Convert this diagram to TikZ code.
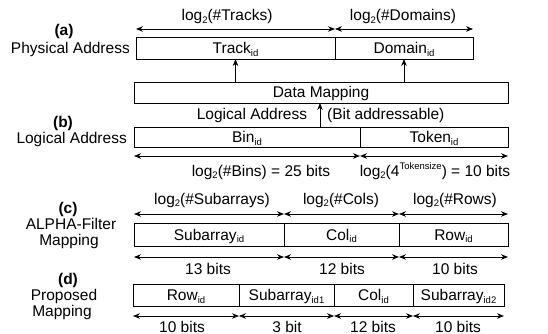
\documentclass[tikz,border=0pt]{standalone}
\usepackage{fontspec}
\setmainfont{Liberation Sans}
\usetikzlibrary{arrows.meta}
\newcommand{\mysub}[1]{\raisebox{-0.35ex}{\fontsize{9.5}{10}\selectfont #1}}
\newcommand{\mysupr}[1]{\raisebox{0.85ex}{\fontsize{9.5}{10}\selectfont #1}}
\tikzset{
  txt/.style={inner sep=0pt, anchor=base, font=\fontsize{15.5}{17}\selectfont},
  bold/.style={txt, font=\fontsize{15.5}{17}\selectfont\bfseries},
  field/.style={draw, line width=0.8pt, inner sep=0pt, outer sep=0pt, text height=11pt, text depth=0pt, font=\fontsize{15.5}{17}\selectfont},
  dimarrow/.style={line width=0.8pt, {Stealth[length=7pt,width=5.5pt]}-{Stealth[length=7pt,width=5.5pt]}},
  uparrow/.style={line width=0.8pt, -{Stealth[length=7pt,width=5.5pt]}}
}
\begin{document}
\begin{tikzpicture}[x=1pt,y=-1pt]
\useasboundingbox (0,0) rectangle (548,334);
% (a)
\node[bold] (la) at (64,35.5) {(a)};
\node[txt, anchor=base east] (lpa) at (130,54) {Physical Address};
\node[field, minimum width=199pt, minimum height=22pt] (track) at (235.5,48) {Track\mysub{id}};
\node[field, minimum width=138pt, minimum height=22pt] (domain) at (404,48) {Domain\mysub{id}};
\coordinate (ya) at (0,29);
\draw[dimarrow] (track.west |- ya) -- (track.east |- ya);
\draw[dimarrow] (domain.west |- ya) -- (domain.east |- ya);
\node[txt] (ltr) at (227,21) {log\mysub{2}(\#Tracks)};
\node[txt] (ldo) at (403,21) {log\mysub{2}(\#Domains)};
% data mapping
\node[field, minimum width=374pt, minimum height=21pt] (dm) at (321,92.5) {Data Mapping};
\draw[uparrow] (dm.north -| track) -- (track.south);
\draw[uparrow] (dm.north -| domain) -- (domain.south);
% (b)
\node[bold] (lb) at (63,128) {(b)};
\node[txt, anchor=base east] (lla) at (127,143) {Logical Address};
\node[field, minimum width=226pt, minimum height=20pt] (bin) at (247,137) {Bin\mysub{id}};
\node[field, minimum width=148pt, minimum height=20pt] (token) at (434,137) {Token\mysub{id}};
\coordinate (lax) at (320,0);
\draw[uparrow] (bin.north -| lax) -- (dm.south -| lax);
\node[txt] (lmid) at (252,120) {Logical Address};
\node[txt, anchor=base west] (lbit) at (327,120) {(Bit addressable)};
\coordinate (yb) at (0,156);
\draw[dimarrow] (bin.west |- yb) -- (bin.east |- yb);
\draw[dimarrow] (token.west |- yb) -- (token.east |- yb);
\node[txt] (lbins) at (261,176) {log\mysub{2}(\#Bins) = 25 bits};
\node[txt] (ltok) at (435,176) {log\mysub{2}(4\mysupr{Tokensize}) = 10 bits};
% (c)
\node[bold] (lc) at (68,213) {(c)};
\node[txt] (lc1) at (71,229) {ALPHA-Filter};
\node[txt] (lc2) at (69,245) {Mapping};
\node[field, minimum width=150pt, minimum height=23pt] (csub) at (209,234.5) {Subarray\mysub{id}};
\node[field, minimum width=115pt, minimum height=23pt] (ccol) at (341.5,234.5) {Col\mysub{id}};
\node[field, minimum width=109pt, minimum height=23pt] (crow) at (453.5,234.5) {Row\mysub{id}};
\coordinate (yc1) at (0,214);
\coordinate (yc2) at (0,257);
\draw[dimarrow] (csub.west |- yc1) -- (csub.east |- yc1);
\draw[dimarrow] (ccol.west |- yc1) -- (ccol.east |- yc1);
\draw[dimarrow] (crow.west |- yc1) -- (crow.east |- yc1);
\draw[dimarrow] (csub.west |- yc2) -- (csub.east |- yc2);
\draw[dimarrow] (ccol.west |- yc2) -- (ccol.east |- yc2);
\draw[dimarrow] (crow.west |- yc2) -- (crow.east |- yc2);
\node[txt] (lsa) at (212,204) {log\mysub{2}(\#Subarrays)};
\node[txt] (lco) at (341,204) {log\mysub{2}(\#Cols)};
\node[txt] (lro) at (455,204) {log\mysub{2}(\#Rows)};
\node[txt] (c13) at (208,274) {13 bits};
\node[txt] (c12) at (342,274) {12 bits};
\node[txt] (c10) at (455,274) {10 bits};
% (d)
\node[bold] (ld) at (68,284) {(d)};
\node[txt] (ld1) at (64,300) {Proposed};
\node[txt] (ld2) at (62,316) {Mapping};
\node[field, minimum width=106pt, minimum height=22pt] (drow) at (186,295) {Row\mysub{id}};
\node[field, minimum width=95pt, minimum height=22pt] (dsub1) at (286.5,295) {Subarray\mysub{id1}};
\node[field, minimum width=79pt, minimum height=22pt] (dcol) at (373.5,295) {Col\mysub{id}};
\node[field, minimum width=91pt, minimum height=22pt] (dsub2) at (458.5,295) {Subarray\mysub{id2}};
\coordinate (yd) at (0,316);
\draw[dimarrow] (drow.west |- yd) -- (drow.east |- yd);
\draw[dimarrow] (dsub1.west |- yd) -- (dsub1.east |- yd);
\draw[dimarrow] (dcol.west |- yd) -- (dcol.east |- yd);
\draw[dimarrow] (dsub2.west |- yd) -- (dsub2.east |- yd);
\node[txt] (d10a) at (182,332) {10 bits};
\node[txt] (d3) at (287,332) {3 bit};
\node[txt] (d12) at (373,332) {12 bits};
\node[txt] (d10b) at (458,332) {10 bits};
\end{tikzpicture}
\end{document}
